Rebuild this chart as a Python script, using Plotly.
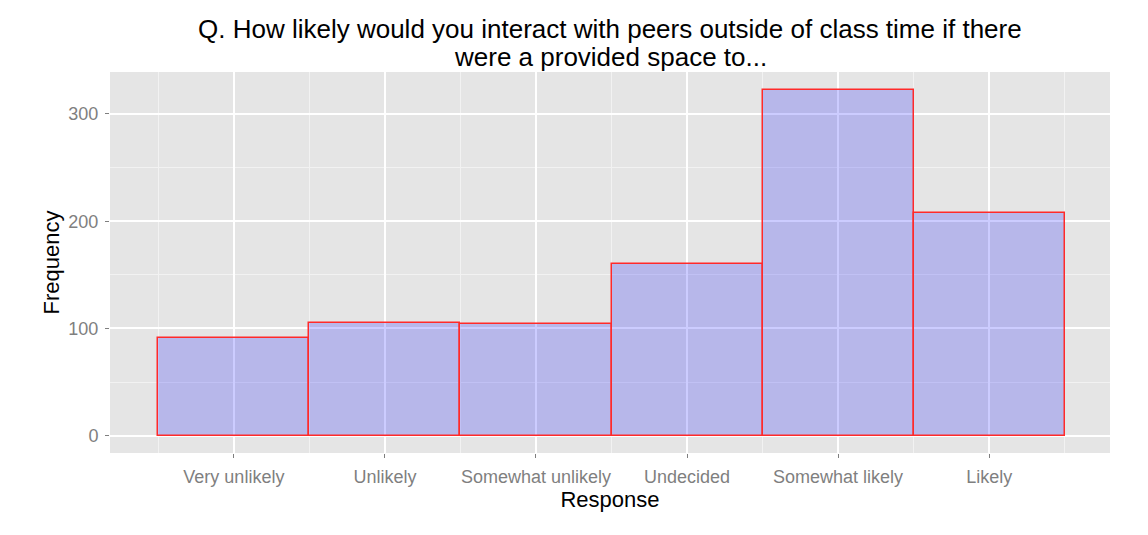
# Survey responses: peer interaction outside class time (ggplot-style histogram)
import plotly.graph_objects as go

# ── DATA ────────────────────────────────────────────────────
responses = ["Very unlikely", "Unlikely", "Somewhat unlikely",
             "Undecided", "Somewhat likely", "Likely"]
positions = [1, 2, 3, 4, 5, 6]
frequency = [91, 105, 104, 160, 322, 208]

y_ticks = [0, 100, 200, 300]

title_lines = ["Q. How likely would you interact with peers outside of class time if there",
               "were a provided space to..."]

# ── FIGURE ──────────────────────────────────────────────────
fig = go.Figure()
fig.add_trace(go.Bar(
    x=positions,
    y=frequency,
    width=1,
    marker=dict(color="rgba(0,0,255,0.2)",
                line=dict(color="#ff2a2a", width=1.5)),
    showlegend=False,
    hoverinfo="x+y"
))

fig.update_layout(
    width=1148, height=535,
    paper_bgcolor="white",
    plot_bgcolor="#e5e5e5",
    margin=dict(l=102, r=46, t=64, b=90),
    font=dict(family="Liberation Sans, Arial, sans-serif"),
    bargap=0
)

# title as two lines (tighter spacing than plotly's multi-line title)
for line, shift in zip(title_lines, [43, 15]):
    fig.add_annotation(
        text=line, xref="paper", yref="paper", x=0.5, y=1,
        xanchor="center", yanchor="middle", yshift=shift,
        showarrow=False, font=dict(size=26, color="black")
    )

fig.update_xaxes(
    range=[0.18, 6.8],
    tickvals=positions,
    ticktext=responses,
    tickfont=dict(size=18, color="#7f7f7f"),
    ticks="outside", ticklen=4, tickcolor="#7f7f7f",
    ticklabelstandoff=3,
    showgrid=True, gridcolor="white", gridwidth=1.5,
    minor=dict(tick0=0.5, dtick=1, showgrid=True,
               gridcolor="#f2f2f2", gridwidth=1),
    zeroline=False, showline=False,
    title=dict(text="Response", font=dict(size=22, color="black"), standoff=2)
)
fig.update_yaxes(
    range=[-16.1, 339.1],
    tickvals=y_ticks,
    tickfont=dict(size=18, color="#7f7f7f"),
    ticks="outside", ticklen=4, tickcolor="#7f7f7f",
    ticklabelstandoff=3,
    showgrid=True, gridcolor="white", gridwidth=1.5,
    minor=dict(tick0=50, dtick=100, showgrid=True,
               gridcolor="#f2f2f2", gridwidth=1),
    zeroline=False, showline=False,
    title=dict(text="Frequency", font=dict(size=22, color="black"), standoff=2)
)

fig.write_html("out.html")
